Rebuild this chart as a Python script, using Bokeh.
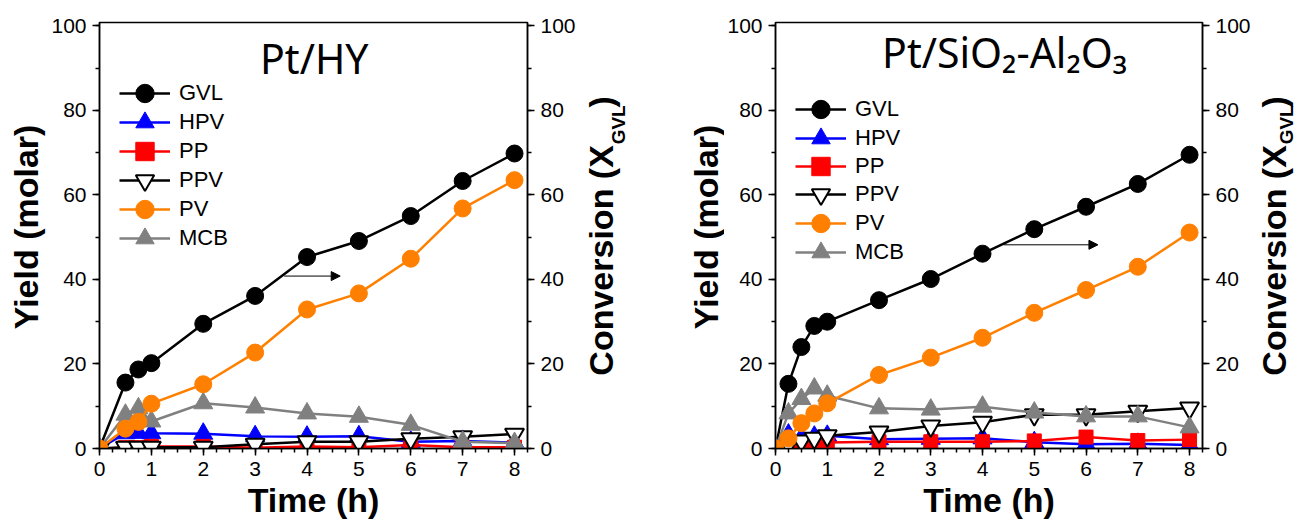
from math import pi
from bokeh.plotting import figure
from bokeh.models import (Range1d, LinearAxis, Legend, LegendItem, Label, Arrow,
                          NormalHead, FixedTicker, Title)
from bokeh.layouts import row
from bokeh.embed import file_html
from bokeh.resources import INLINE

# ---------------- data ----------------
series_names = ["GVL", "HPV", "PP", "PPV", "PV", "MCB"]

t_hy = [0, 0.5, 0.75, 1, 2, 3, 4, 5, 6, 7, 8]
hy_gvl = [0, 15.6, 18.7, 20.2, 29.5, 36.1, 45.3, 49.1, 55.0, 63.3, 69.8]
hy_hpv = [0, 3.6, 3.7, 3.6, 3.5, 2.9, 2.8, 2.9, 1.6, 1.8, 1.4]
hy_pp = [0, 0.2, 0.2, 0.5, 0.5, 0.2, 0.5, 0.3, 0.8, 0.3, 0.3]
hy_ppv = [0, 0.3, 0.3, 0.3, 0.3, 1.0, 1.6, 1.6, 2.3, 2.8, 3.4]
hy_pv = [0, 4.7, 6.3, 10.6, 15.2, 22.7, 32.9, 36.7, 44.9, 56.8, 63.5]
hy_mcb = [0, 8.0, 9.5, 6.4, 10.7, 9.7, 8.3, 7.5, 5.6, 1.6, 1.3]

t_sa = [0, 0.25, 0.5, 0.75, 1, 2, 3, 4, 5, 6, 7, 8]
sa_gvl = [0, 15.3, 24.0, 29.0, 30.0, 35.1, 40.1, 46.1, 51.9, 57.2, 62.6, 69.5]
sa_hpv = [0, 3.3, 2.5, 2.8, 3.0, 2.2, 2.3, 2.4, 1.5, 1.0, 1.1, 0.8]
sa_pp = [0, 0.3, 1.0, 1.2, 1.4, 1.6, 1.6, 1.6, 1.8, 2.7, 1.9, 2.1]
sa_ppv = [0, 1.0, 1.8, 2.4, 3.0, 3.9, 5.3, 6.2, 8.0, 8.0, 8.8, 9.6]
sa_pv = [0, 2.4, 6.0, 8.3, 10.7, 17.4, 21.5, 26.2, 32.1, 37.5, 43.0, 51.1]
sa_mcb = [0, 8.3, 11.7, 14.2, 12.5, 9.5, 9.2, 9.9, 8.5, 7.6, 7.6, 5.0]

x_ticks = [0, 1, 2, 3, 4, 5, 6, 7, 8]
y_ticks = [0, 20, 40, 60, 80, 100]

# ---------------- styles ----------------
STYLE = {
    "GVL": dict(color="#000000", marker="circle", size=17, fill="#000000"),
    "HPV": dict(color="#0000FF", marker="triangle", size=19, fill="#0000FF"),
    "PP": dict(color="#FF0000", marker="square", size=14, fill="#FF0000"),
    "PPV": dict(color="#000000", marker="inverted_triangle", size=19, fill="#FFFFFF"),
    "PV": dict(color="#FF8000", marker="circle", size=17, fill="#FF8000"),
    "MCB": dict(color="#808080", marker="triangle", size=19, fill="#808080"),
}
DRAW_ORDER = ["GVL", "HPV", "PP", "PPV", "MCB", "PV"]
FONT = "Liberation Sans"
XMAX, YMAX = 8.25, 100.8
H = 521
FRAME_W = 432
RB = 49            # right border of the plot figures


def style_axis(ax):
    ax.axis_line_width = 1.5
    ax.major_tick_line_width = 1.5
    ax.minor_tick_line_width = 1.5
    ax.major_tick_out = 7
    ax.major_tick_in = 0
    ax.minor_tick_out = 4
    ax.minor_tick_in = 0
    ax.major_label_text_font = FONT
    ax.major_label_text_font_size = "21px"
    ax.major_label_text_color = "black"
    ax.major_label_standoff = 6
    ax.axis_label = None


def strip(w, h):
    s = figure(width=w, height=h, x_range=Range1d(0, w), y_range=Range1d(h, 0),
               output_backend="svg", toolbar_location=None, min_border=0,
               x_axis_type=None, y_axis_type=None)
    s.xgrid.visible = False
    s.ygrid.visible = False
    s.outline_line_color = None
    s.background_fill_color = "white"
    s.border_fill_color = "white"
    return s


def panel(t, data, border_left, title_text, title_x, title_y, title_align,
          arrow_x0, arrow_x1, arrow_y, legend_centers):
    p = figure(width=border_left + FRAME_W + RB, height=H,
               x_range=Range1d(0, XMAX), y_range=Range1d(0, YMAX),
               output_backend="svg", toolbar_location=None,
               min_border_left=border_left, min_border_right=RB,
               min_border_top=22, min_border_bottom=73)
    p.extra_y_ranges = {"conv": Range1d(0, YMAX)}
    p.xgrid.visible = False
    p.ygrid.visible = False
    p.outline_line_color = "black"
    p.outline_line_width = 1.5
    p.background_fill_color = "white"
    p.border_fill_color = "white"

    p.xaxis.ticker = FixedTicker(ticks=x_ticks,
                                 minor_ticks=[i * 0.25 for i in range(34)])
    p.yaxis.ticker = FixedTicker(ticks=y_ticks,
                                 minor_ticks=list(range(0, 101, 10)))
    style_axis(p.xaxis[0])
    style_axis(p.yaxis[0])
    rax = LinearAxis(y_range_name="conv",
                     ticker=FixedTicker(ticks=y_ticks,
                                        minor_ticks=list(range(0, 101, 10))))
    style_axis(rax)
    p.add_layout(rax, "right")

    # x-axis title as a panel title below the axis
    p.add_layout(Title(text="Time (h)", align="center", text_font=FONT,
                       text_font_size="34px", text_font_style="bold",
                       text_color="black", standoff=0, offset=0), "below")

    rends = {}
    for name in DRAW_ORDER:
        st = STYLE[name]
        lr = p.line(t, data[name], line_color=st["color"], line_width=2.5)
        sr = p.scatter(t, data[name], marker=st["marker"], size=st["size"],
                       fill_color=st["fill"], line_color=st["color"],
                       line_width=2 if name == "PPV" else 1)
        rends[name] = [lr, sr]

    # one single-item legend per series so the row pitch can be set freely
    frame_bottom = 448
    for name, cy in zip(series_names, legend_centers):
        lg = Legend(items=[LegendItem(label=name, renderers=rends[name])],
                    location=(20, frame_bottom - 23 - cy), padding=0, margin=0,
                    spacing=0, glyph_width=51, glyph_height=46,
                    label_standoff=9, label_text_font=FONT,
                    label_text_font_size="22px", label_text_color="black",
                    label_height=20, border_line_alpha=0,
                    background_fill_alpha=0)
        p.add_layout(lg)

    p.add_layout(Label(x=title_x, y=title_y, text=title_text,
                       text_font="Noto Sans", text_font_size="41px",
                       text_align=title_align, text_baseline="middle",
                       text_color="black"))

    p.add_layout(Arrow(x_start=arrow_x0, y_start=arrow_y, x_end=arrow_x1,
                       y_end=arrow_y, line_width=1, line_color="black",
                       end=NormalHead(size=9, fill_color="black",
                                      line_color="black")))
    return p


def yield_strip(w, anchor_x):
    s = strip(w, H)
    s.add_layout(Label(x=anchor_x, y=250, text="Yield (molar)", angle=pi / 2,
                       text_font=FONT, text_font_size="34px",
                       text_font_style="bold", text_align="center",
                       text_baseline="middle", text_color="black"))
    return s


def conv_strip(w, main_x, sub_x):
    s = strip(w, H)
    j = 150
    s.add_layout(Label(x=main_x, y=j, text="Conversion (X", angle=pi / 2,
                       text_font=FONT, text_font_size="34px",
                       text_font_style="bold", text_align="right",
                       text_baseline="middle", text_color="black"))
    s.add_layout(Label(x=sub_x, y=j - 1, text="GVL", angle=pi / 2,
                       text_font=FONT, text_font_size="19px",
                       text_font_style="bold", text_align="left",
                       text_baseline="middle", text_color="black"))
    s.add_layout(Label(x=main_x, y=j - 46, text=")", angle=pi / 2,
                       text_font=FONT, text_font_size="34px",
                       text_font_style="bold", text_align="left",
                       text_baseline="middle", text_color="black"))
    return s


hy = {"GVL": hy_gvl, "HPV": hy_hpv, "PP": hy_pp, "PPV": hy_ppv,
      "PV": hy_pv, "MCB": hy_mcb}
sa = {"GVL": sa_gvl, "HPV": sa_hpv, "PP": sa_pp, "PPV": sa_ppv,
      "PV": sa_pv, "MCB": sa_mcb}

p1 = panel(t_hy, hy, 49, "Pt/HY", 4.14, 92.4, "center",
           3.56, 4.64, 40.8, [93, 122, 151, 180, 209, 238])
p2 = panel(t_sa, sa, 48, "Pt/SiO\u2082-Al\u2082O\u2083", 2.06, 93.8, "left",
           4.41, 6.23, 48.2, [109, 138, 166, 194, 223, 252])

w1 = 649 - 48 - p1.width
w2 = 649 - 75 - p2.width
block1 = row(yield_strip(48, 25), p1, conv_strip(w1, 22.2, 40.3))
block2 = row(yield_strip(75, 56), p2, conv_strip(w2, 20.2, 33.3))

layout = row(block1, block2)
open("out.html", "w").write(file_html(layout, INLINE))
